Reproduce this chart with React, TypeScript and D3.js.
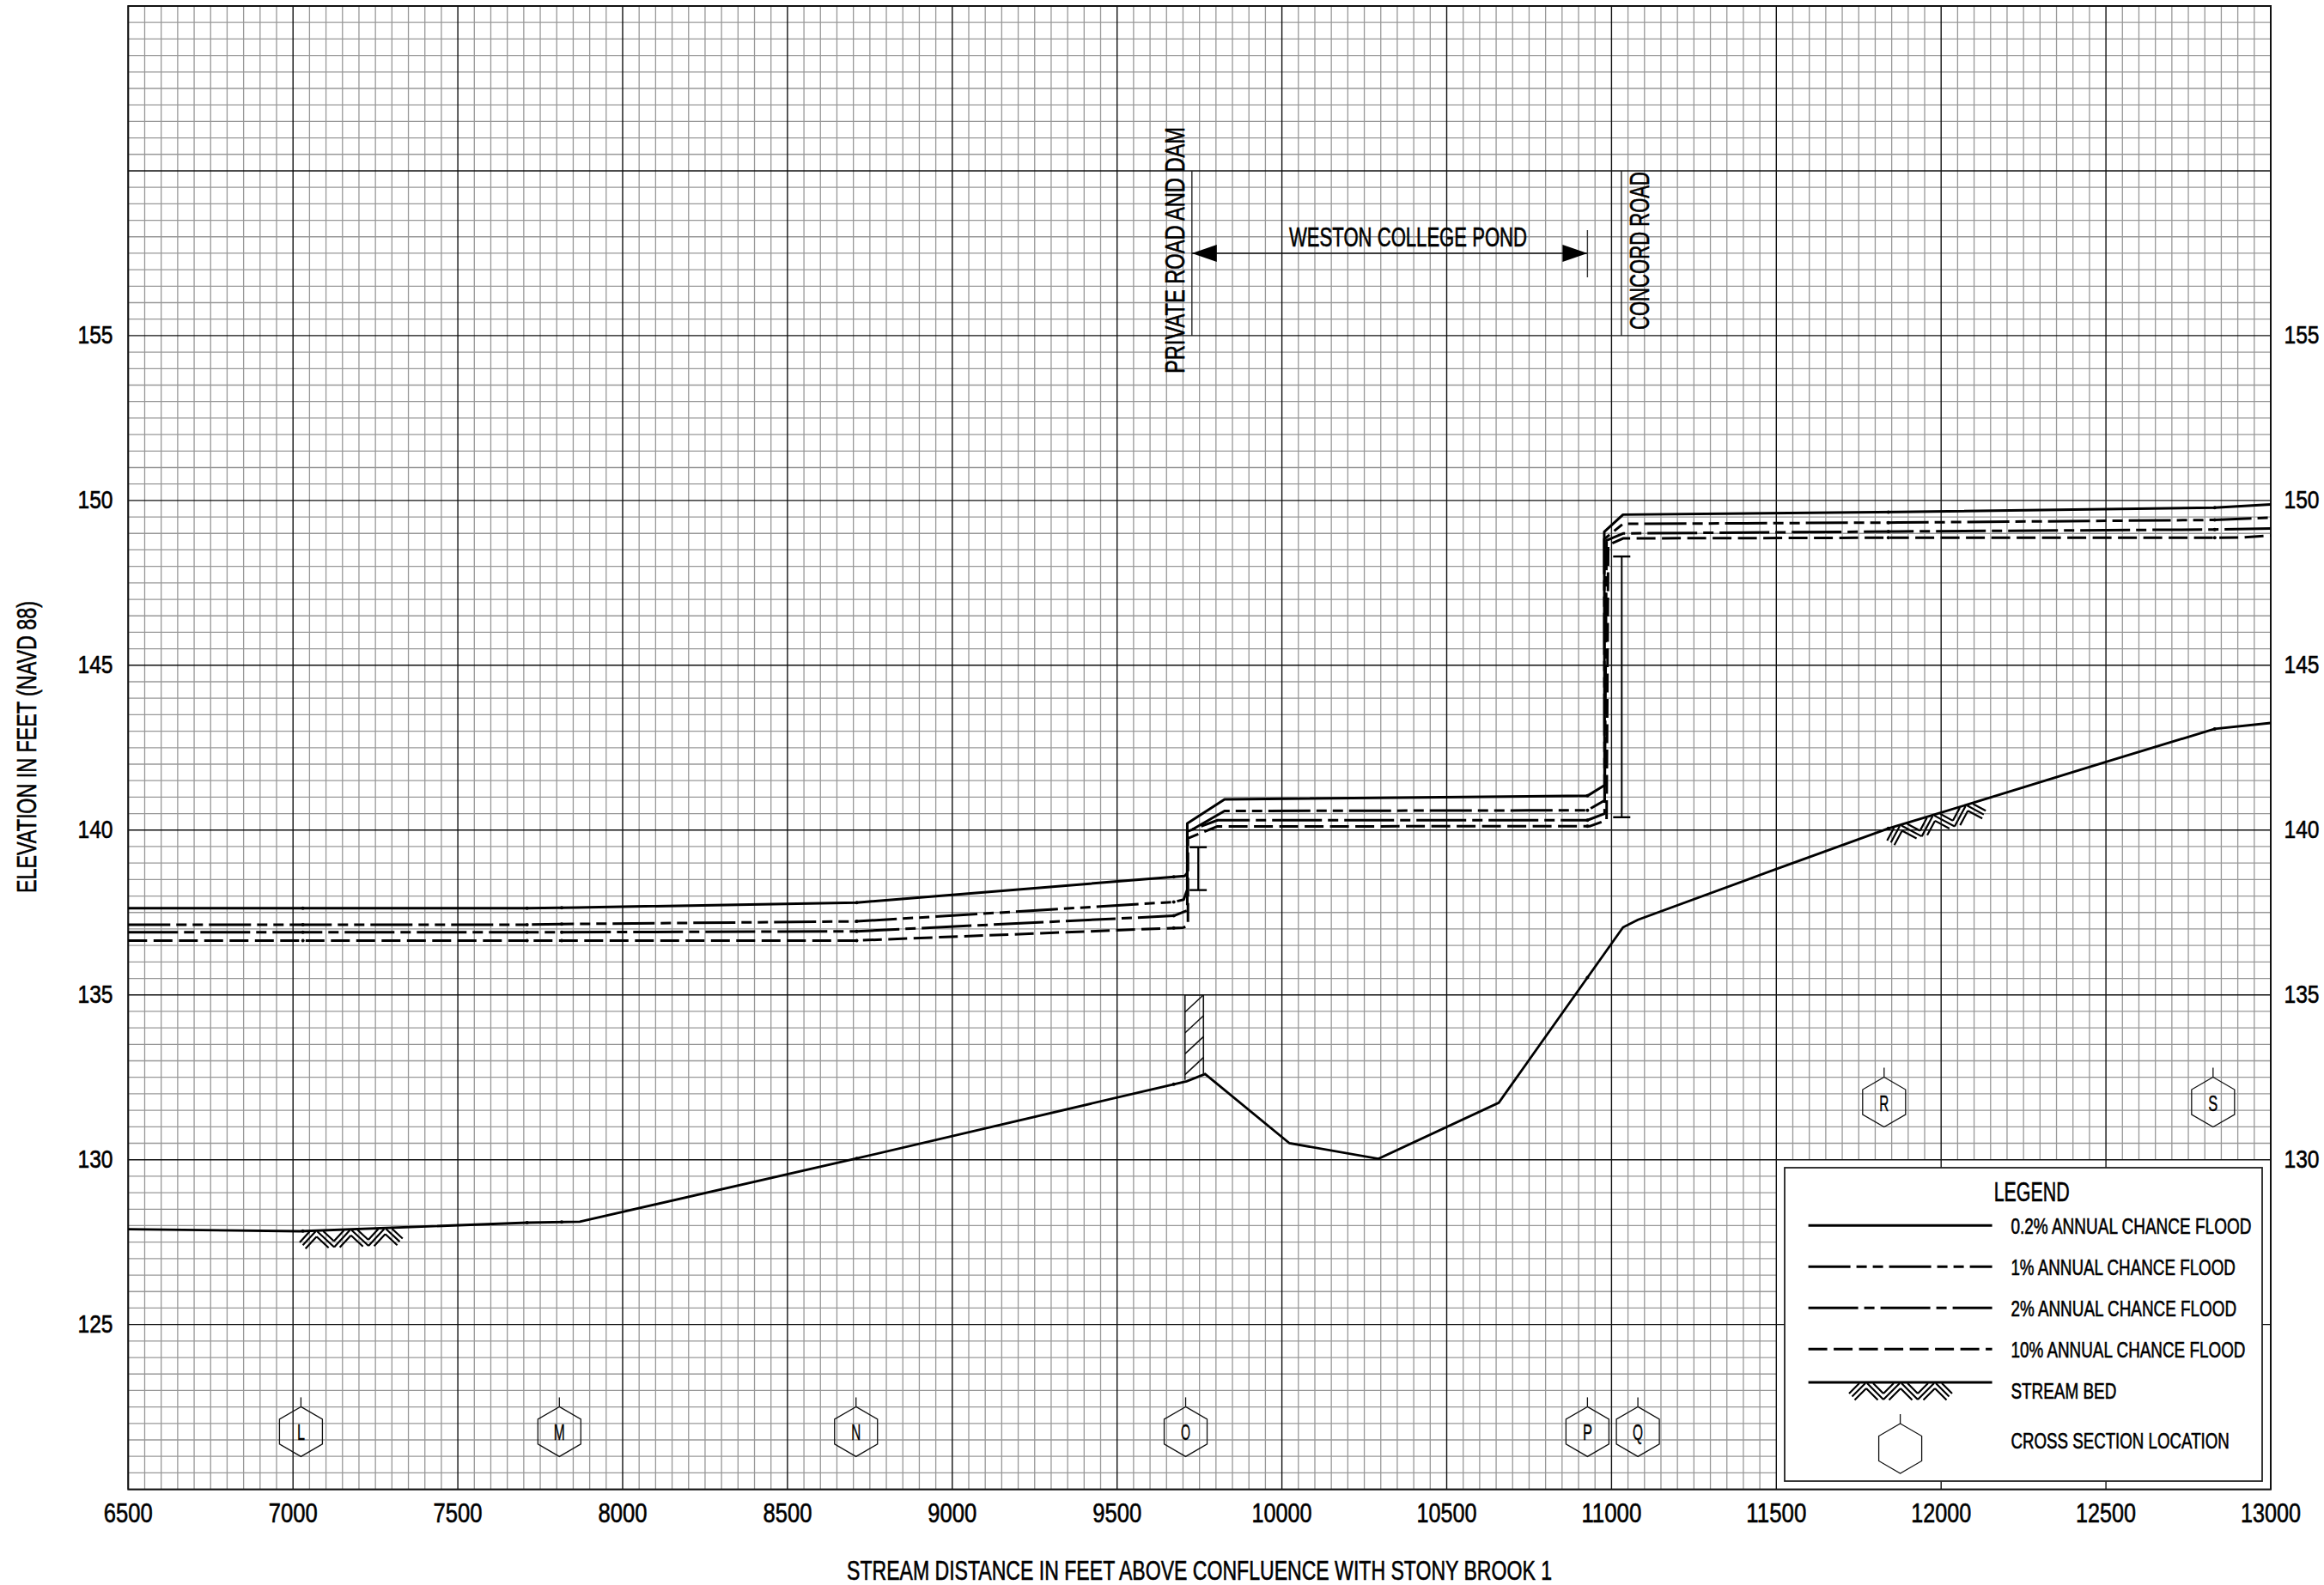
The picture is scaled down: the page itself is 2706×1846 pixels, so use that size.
import React from "react";
import * as d3 from "d3";

type P = [number, number];

const bed: P[] = [[6500,127.89],[7020,127.83],[7710,128.09],[7870,128.12],[8710,130.04],[9711,132.38],[9767,132.6],[10023,130.5],[10293,130.03],[10658,131.73],[11035,137.05],[11080,137.28],[11500,138.82],[11840,140.05],[12000,140.53],[12500,142.07],[12830,143.07],[13000,143.25]];
const flood02: P[] = [[6500,137.63],[7030,137.63],[7710,137.63],[7860,137.65],[8710,137.8],[9705,138.61],[9713,138.7],[9713,140.2],[9826,140.93],[10927,141.04],[10979,141.36],[10978,149.05],[11035,149.57],[11870,149.65],[12830,149.78],[13000,149.88]];
const flood1: P[] = [[6500,137.13],[7030,137.13],[7710,137.13],[7815,137.15],[8710,137.23],[9672,137.82],[9702,137.89],[9713,138.2],[9713,139.93],[9826,140.58],[10927,140.6],[10979,140.9],[10978,148.83],[11035,149.29],[11870,149.33],[12830,149.41],[13000,149.48]];
const flood2: P[] = [[6500,136.9],[7030,136.9],[7710,136.9],[7815,136.9],[8710,136.93],[9672,137.4],[9713,137.56],[9713,139.96],[9805,140.3],[10927,140.3],[10979,140.5],[10985,148.79],[11035,149.0],[11870,149.06],[12830,149.12],[13000,149.15]];
const flood10: P[] = [[6500,136.65],[7030,136.65],[7710,136.65],[7815,136.65],[8710,136.65],[9700,137.04],[9715,137.1],[9715,139.75],[9803,140.11],[10935,140.12],[10985,140.3],[10990,148.65],[11035,148.85],[11870,148.87],[12830,148.87],[12915,148.88],[13000,148.94]];

const xTickValues = [6500,7000,7500,8000,8500,9000,9500,10000,10500,11000,11500,12000,12500,13000];
const yTickLeft = [155,150,145,140,135,130,125];
const yTickRight = [155,150,145,140,135,130];

const sections: { id: string; x: number; elev: number; w: number }[] = [
  { id: "L", x: 7024, elev: 121.75, w: 9 },
  { id: "M", x: 7808, elev: 121.75, w: 13 },
  { id: "N", x: 8708, elev: 121.75, w: 11 },
  { id: "O", x: 9708, elev: 121.75, w: 11 },
  { id: "P", x: 10927, elev: 121.75, w: 11 },
  { id: "Q", x: 11080, elev: 121.75, w: 12 },
  { id: "R", x: 11827, elev: 131.75, w: 11 },
  { id: "S", x: 12825, elev: 131.75, w: 11 },
];
const bedHatchX = [7175, 11976];
const dotStations = [7030, 7710, 7815, 8710, 9672, 10927, 11840, 12830];
const iBeams: [number, number, number][] = [[9746, 138.18, 139.48], [11031, 140.39, 148.3]];
const roads = [{ x: 9727, label: "PRIVATE ROAD AND DAM" }, { x: 11030, label: "CONCORD ROAD" }];
const pond = { from: 9727, to: 10927, elev: 157.5, label: "WESTON COLLEGE POND" };
const legendRows = ["0.2% ANNUAL CHANCE FLOOD", "1% ANNUAL CHANCE FLOOD", "2% ANNUAL CHANCE FLOOD", "10% ANNUAL CHANCE FLOOD", "STREAM BED", "CROSS SECTION LOCATION"];
const legendWidths = [282, 263.4, 264.6, 275, 123, 254.6];

const DASH1 = "49 7 12 7 12 7";
const DASH2 = "58 7 12 7";
const DASH10 = "22 7.5";
const FONT = "'Liberation Sans',Arial,sans-serif";

const left = 149.3, right = 2644, top = 7, bottom = 1734.6;
const x = d3.scaleLinear().domain([6500, 13000]).range([left, right]);
const y = d3.scaleLinear().domain([120, 165]).range([bottom, top]);
const line = d3.line<P>().x(d => x(d[0])).y(d => y(d[1])).curve(d3.curveLinear);
const bedAt = d3.scaleLinear().domain(bed.map(d => d[0])).range(bed.map(d => d[1]));
const minorX = d3.range(6500, 13001, 50).filter(v => v % 500 !== 0);
const minorY = d3.range(120, 165.01, 0.5).filter(v => v % 5 !== 0);
const majorX = d3.range(6500, 13001, 500);
const majorY = d3.range(120, 165.01, 5);

const tickWidth = (v: number) => String(v).length === 5 ? 70 : 57;

const measureCtx = document.createElement("canvas").getContext("2d");
function squeeze(text: string, size: number, target: number) {
  if (!measureCtx) return 0.75;
  measureCtx.font = `${size}px "Liberation Sans"`;
  return target / measureCtx.measureText(text).width;
}

function Hex({ cx, cy, label, w }: { cx: number; cy: number; label?: string; w?: number }) {
  const pts: P[] = [[0,-29],[25,-14.5],[25,14.5],[0,29],[-25,14.5],[-25,-14.5]];
  return (
    <g transform={`translate(${cx},${cy})`}>
      <path d={d3.line()(pts) + "Z"} fill="none" stroke="#111" strokeWidth={1.3} />
      <line x1={0} x2={0} y1={-29} y2={-40} stroke="#111" strokeWidth={1.3} />
      {label && <text y={10} textAnchor="middle" fontSize={25} textLength={w} lengthAdjust="spacingAndGlyphs" stroke="#000" strokeWidth={0.4}>{label}</text>}
    </g>
  );
}

function Hatch({ cx, cy, angle }: { cx: number; cy: number; angle: number }) {
  const peaks = [-40, 0, 40];
  const arms: [number, number, number][] = [[-7, 20, 20], [0, 20, 16.5], [7, 13.5, 13.5]];
  return (
    <g transform={`translate(${cx},${cy}) rotate(${angle})`} stroke="#000" strokeWidth={2.2} fill="none">
      {peaks.map((p, i) => arms.map(([a, inner, end]) => {
        const s = Math.max(1, a);
        const off = s - a;
        const lL = i === 0 ? end : inner;
        const lR = i === peaks.length - 1 ? end : inner;
        return <path key={`${p}-${a}`} d={`M${p - lL},${a + lL}L${p - off},${s}M${p + off},${s}L${p + lR},${a + lR}`} />;
      }))}
    </g>
  );
}

function Flood({ data, dash }: { data: P[]; dash?: string }) {
  return <path d={line(data) ?? ""} fill="none" stroke="#000" strokeWidth={3} strokeDasharray={dash} strokeLinejoin="round" />;
}

function IBeam({ v }: { v: [number, number, number] }) {
  return (
    <g stroke="#000" strokeWidth={2}>
      <line x1={x(v[0])} x2={x(v[0])} y1={y(v[1])} y2={y(v[2])} />
      <line x1={x(v[0]) - 10} x2={x(v[0]) + 10} y1={y(v[1])} y2={y(v[1])} strokeWidth={2.4} />
      <line x1={x(v[0]) - 10} x2={x(v[0]) + 10} y1={y(v[2])} y2={y(v[2])} strokeWidth={2.4} />
    </g>
  );
}

export default function App() {
  const slopeAngle = (vx: number) => {
    const a: P = [x(vx - 60), y(bedAt(vx - 60))];
    const b: P = [x(vx + 60), y(bedAt(vx + 60))];
    return (Math.atan2(b[1] - a[1], b[0] - a[0]) * 180) / Math.PI;
  };
  const hatchL = x(9706), hatchR = x(9762);
  const hatchLines = [0, 1, 2, 3].map(i => y(135) + 20 + i * 24.3);
  const legendYs = [1427.3, 1475.3, 1523.3, 1571.3, 1610];
  const legendBase = [1437, 1485, 1533, 1581, 1629, 1686.7];
  return (
    <svg width={2706} height={1846} style={{ position: "absolute", left: 0, top: 0, background: "#fff", display: "block" }} fontFamily={FONT} fill="#000">
      <rect width={2706} height={1846} fill="#fff" />
      <g stroke="#989898" strokeWidth={1.3}>
        {minorX.map(v => <line key={v} x1={x(v)} x2={x(v)} y1={top} y2={bottom} />)}
        {minorY.map(v => <line key={v} x1={left} x2={right} y1={y(v)} y2={y(v)} />)}
      </g>
      <rect x={x(11500)} y={y(130)} width={right - x(11500)} height={bottom - y(130)} fill="#fff" />
      <g stroke="#111" strokeWidth={1.4}>
        {majorX.map(v => <line key={v} x1={x(v)} x2={x(v)} y1={top} y2={bottom} />)}
        {majorY.map(v => <line key={v} x1={left} x2={right} y1={y(v)} y2={y(v)} />)}
      </g>
      <rect x={left} y={top} width={right - left} height={bottom - top} fill="none" stroke="#111" strokeWidth={2} />

      {/* legend box */}
      <rect x={2078} y={1360} width={556} height={365} fill="#fff" stroke="#222" strokeWidth={1.8} />

      {/* series */}
      <path d={line(bed) ?? ""} fill="none" stroke="#000" strokeWidth={2.8} />
      <Flood data={flood02} />
      <Flood data={flood1} dash={DASH1} />
      <Flood data={flood2} dash={DASH2} />
      <Flood data={flood10} dash={DASH10} />
      {[flood02, flood1, flood2, flood10, bed].map((s, i) => {
        const u = s.filter((p, j) => j === 0 || p[0] > s[j - 1][0]);
        const f = d3.scaleLinear().domain(u.map(p => p[0])).range(u.map(p => p[1]));
        return dotStations.map(st => <circle key={`${i}-${st}`} cx={x(st)} cy={y(f(st))} r={2} fill="#000" />);
      })}
      {bedHatchX.map(v => <Hatch key={v} cx={x(v)} cy={y(bedAt(v))} angle={slopeAngle(v)} />)}

      {/* bridge hatch */}
      <g stroke="#111" strokeWidth={1.6} fill="none">
        <path d={`M${hatchL},${y(132.42)}V${y(135)}H${hatchR}V${y(132.58)}`} />
        {hatchLines.map(v => <line key={v} x1={hatchL} y1={v} x2={hatchR} y2={v - 20} />)}
      </g>
      {iBeams.map(v => <IBeam key={v[0]} v={v} />)}

      {/* road + pond annotations */}
      {roads.map(r => <line key={r.x} x1={x(r.x)} x2={x(r.x)} y1={y(160)} y2={y(155)} stroke="#222" strokeWidth={1.4} />)}
      <line x1={x(pond.from)} x2={x(pond.to)} y1={y(pond.elev)} y2={y(pond.elev)} stroke="#111" strokeWidth={1.6} />
      <line x1={x(pond.to)} x2={x(pond.to)} y1={268} y2={323} stroke="#333" strokeWidth={1.4} />
      <path d={`M${x(pond.from)},${y(pond.elev)}l29,-10v20Z`} />
      <path d={`M${x(pond.to)},${y(pond.elev)}l-29,-10v20Z`} />

      {sections.map(s => <Hex key={s.id} cx={x(s.x)} cy={y(s.elev)} label={s.id} w={s.w} />)}

      <g stroke="#000" strokeWidth={0.6}>
        <text transform="translate(1379,435) rotate(-90)" fontSize={31} textLength={287} lengthAdjust="spacingAndGlyphs">{roads[0].label}</text>
        <text transform="translate(1920,384) rotate(-90)" fontSize={31} textLength={184} lengthAdjust="spacingAndGlyphs">{roads[1].label}</text>
        <text x={1501} y={287} fontSize={31} textLength={277} lengthAdjust="spacingAndGlyphs">{pond.label}</text>

        {/* axes */}
        {xTickValues.map(v => <text key={v} x={x(v)} y={1773.3} textAnchor="middle" fontSize={31} textLength={tickWidth(v)} lengthAdjust="spacingAndGlyphs">{v}</text>)}
        {yTickLeft.map(v => <text key={v} transform={`translate(111,${y(v) + 9}) scale(0.82,1)`} textAnchor="middle" fontSize={30}>{v}</text>)}
        {yTickRight.map(v => <text key={v} transform={`translate(2680,${y(v) + 9}) scale(0.82,1)`} textAnchor="middle" fontSize={30}>{v}</text>)}
        <text transform="translate(42,1040) rotate(-90)" fontSize={31} textLength={340} lengthAdjust="spacingAndGlyphs">ELEVATION IN FEET (NAVD 88)</text>
        <text x={986} y={1840} fontSize={31} textLength={821} lengthAdjust="spacingAndGlyphs">STREAM DISTANCE IN FEET ABOVE CONFLUENCE WITH STONY BROOK 1</text>

        {/* legend */}
        <text x={2321.7} y={1399} fontSize={31} textLength={88} lengthAdjust="spacingAndGlyphs">LEGEND</text>
        {legendRows.map((t, i) => (
          <text key={t} transform={`translate(2341.4,${legendBase[i]}) scale(${squeeze(t, 25, legendWidths[i])},1)`} fontSize={25}>{t}</text>
        ))}
      </g>
      {[undefined, DASH1, DASH2, DASH10, undefined].map((d, i) => (
        <line key={i} x1={2105.6} x2={2319.6} y1={legendYs[i]} y2={legendYs[i]} stroke="#000" strokeWidth={3} strokeDasharray={d} />
      ))}
      <Hatch cx={2213} cy={1610} angle={0} />
      <Hex cx={2212.6} cy={1687} />
    </svg>
  );
}
